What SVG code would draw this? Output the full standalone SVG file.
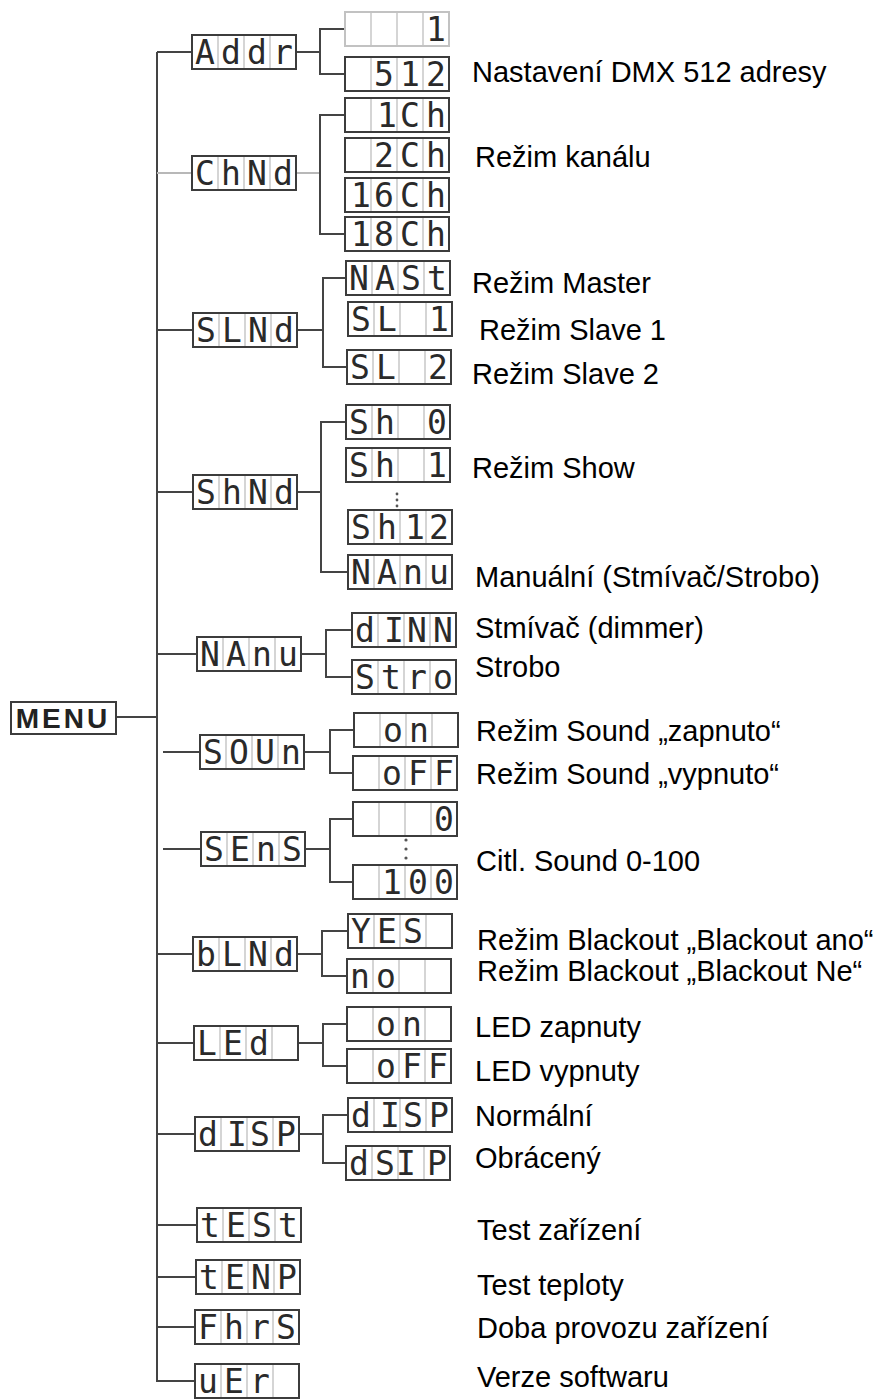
<svg xmlns="http://www.w3.org/2000/svg" xmlns:xlink="http://www.w3.org/1999/xlink" width="878" height="1400" viewBox="0 0 878 1400">
<style>
.bx{fill:#fff;stroke:#3c3c3c;stroke-width:2}
.bxl{fill:#fff;stroke:#c2c2c2;stroke-width:2}
.dv{stroke:#c8c8c8;stroke-width:1.5}
.sg{font-family:"DejaVu Sans Mono","Liberation Mono",monospace;font-size:33px;fill:#2a2a2a;text-anchor:middle}
.lb{font-family:"Liberation Sans",Arial,sans-serif;font-size:29px;fill:#000}
.cn{stroke:#444;stroke-width:2;fill:none}
.cnl{stroke:#b8b8b8;stroke-width:2;fill:none}
.dot{fill:#555}
</style>
<defs>
<g id="frame"><rect class="bx" x="0" y="0" width="104" height="34"/><path class="dv" d="M26,1V33M52,1V33M78,1V33"/></g>
<g id="framel"><rect class="bxl" x="0" y="0" width="104" height="34"/><path class="dv" d="M26,1V33M52,1V33M78,1V33"/></g>
</defs>
<g id="connectors">
<path class="cn" d="M157,52V1381H195"/>
<path class="cn" d="M157,52H192M157,330H193M157,492H193M157,654H197M116,717H157M163,752H200M163,849H201M157,954H193M157,1043H194M157,1134H195M157,1225H197M157,1277H196M157,1327H195"/>
<path class="cnl" d="M157,173H192M296,173H320"/>
<path class="cn" d="M296,52H320M345,29H320V74H345"/>
<path class="cn" d="M345,115H320V234H345"/>
<path class="cn" d="M297,330H323M346,278H323V367H347"/>
<path class="cn" d="M297,492H321M346,422H321V572H348"/>
<path class="cn" d="M301,654H326M352,630H326V677H352"/>
<path class="cn" d="M304,752H330M354,730H330V773H353"/>
<path class="cn" d="M305,849H330M353,819H330V882H353"/>
<path class="cn" d="M297,954H322M348,931H322V976H347"/>
<path class="cn" d="M298,1043H323M347,1024H323V1066H347"/>
<path class="cn" d="M299,1134H323M348,1115H323V1163H346"/>
<circle class="dot" cx="397" cy="494" r="1.4"/><circle class="dot" cx="397" cy="500" r="1.4"/><circle class="dot" cx="397" cy="506" r="1.4"/>
<circle class="dot" cx="406" cy="840" r="1.6"/><circle class="dot" cx="406" cy="849" r="1.6"/><circle class="dot" cx="406" cy="858" r="1.6"/>
</g>
<g id="menu"><rect x="11" y="702" width="105" height="32" fill="#fff" stroke="#3c3c3c" stroke-width="2"/><text x="63" y="728" font-family="Liberation Sans,Arial,sans-serif" font-size="28" font-weight="bold" letter-spacing="3" text-anchor="middle" fill="#222">MENU</text></g>
<g id="n-addr" transform="translate(192,35)"><use xlink:href="#frame"/><text class="sg" y="29"><tspan x="13">A</tspan><tspan x="39">d</tspan><tspan x="65">d</tspan><tspan x="91">r</tspan></text></g>
<g id="n-addr-1" transform="translate(345,12)"><use xlink:href="#framel"/><text class="sg" y="29"><tspan x="91">1</tspan></text></g>
<g id="n-addr-512" transform="translate(345,57)"><use xlink:href="#frame"/><text class="sg" y="29"><tspan x="39">5</tspan><tspan x="65">1</tspan><tspan x="91">2</tspan></text></g>
<g id="n-chnd" transform="translate(192,156)"><use xlink:href="#frame"/><text class="sg" y="29"><tspan x="13">C</tspan><tspan x="39">h</tspan><tspan x="65">N</tspan><tspan x="91">d</tspan></text></g>
<g id="n-1ch" transform="translate(345,98)"><use xlink:href="#frame"/><text class="sg" y="29"><tspan x="42">1</tspan><tspan x="65">C</tspan><tspan x="91">h</tspan></text></g>
<g id="n-2ch" transform="translate(345,138)"><use xlink:href="#frame"/><text class="sg" y="29"><tspan x="39">2</tspan><tspan x="65">C</tspan><tspan x="91">h</tspan></text></g>
<g id="n-16ch" transform="translate(345,178)"><use xlink:href="#frame"/><text class="sg" y="29"><tspan x="16">1</tspan><tspan x="39">6</tspan><tspan x="65">C</tspan><tspan x="91">h</tspan></text></g>
<g id="n-18ch" transform="translate(345,217)"><use xlink:href="#frame"/><text class="sg" y="29"><tspan x="16">1</tspan><tspan x="39">8</tspan><tspan x="65">C</tspan><tspan x="91">h</tspan></text></g>
<g id="n-slnd" transform="translate(193,313)"><use xlink:href="#frame"/><text class="sg" y="29"><tspan x="13">S</tspan><tspan x="39">L</tspan><tspan x="65">N</tspan><tspan x="91">d</tspan></text></g>
<g id="n-mast" transform="translate(346,261)"><use xlink:href="#frame"/><text class="sg" y="29"><tspan x="13">N</tspan><tspan x="39">A</tspan><tspan x="65">S</tspan><tspan x="91">t</tspan></text></g>
<g id="n-sl1" transform="translate(348,302)"><use xlink:href="#frame"/><text class="sg" y="29"><tspan x="13">S</tspan><tspan x="39">L</tspan><tspan x="91">1</tspan></text></g>
<g id="n-sl2" transform="translate(347,350)"><use xlink:href="#frame"/><text class="sg" y="29"><tspan x="13">S</tspan><tspan x="39">L</tspan><tspan x="91">2</tspan></text></g>
<g id="n-shnd" transform="translate(193,475)"><use xlink:href="#frame"/><text class="sg" y="29"><tspan x="13">S</tspan><tspan x="39">h</tspan><tspan x="65">N</tspan><tspan x="91">d</tspan></text></g>
<g id="n-sh0" transform="translate(346,405)"><use xlink:href="#frame"/><text class="sg" y="29"><tspan x="13">S</tspan><tspan x="39">h</tspan><tspan x="91">0</tspan></text></g>
<g id="n-sh1" transform="translate(346,448)"><use xlink:href="#frame"/><text class="sg" y="29"><tspan x="13">S</tspan><tspan x="39">h</tspan><tspan x="91">1</tspan></text></g>
<g id="n-sh12" transform="translate(348,510)"><use xlink:href="#frame"/><text class="sg" y="29"><tspan x="13">S</tspan><tspan x="39">h</tspan><tspan x="67">1</tspan><tspan x="91">2</tspan></text></g>
<g id="n-manu-c" transform="translate(348,555)"><use xlink:href="#frame"/><text class="sg" y="29"><tspan x="13">N</tspan><tspan x="39">A</tspan><tspan x="65">n</tspan><tspan x="91">u</tspan></text></g>
<g id="n-manu" transform="translate(197,637)"><use xlink:href="#frame"/><text class="sg" y="29"><tspan x="13">N</tspan><tspan x="39">A</tspan><tspan x="65">n</tspan><tspan x="91">u</tspan></text></g>
<g id="n-dimm" transform="translate(352,613)"><use xlink:href="#frame"/><text class="sg" y="29"><tspan x="13">d</tspan><tspan x="42">I</tspan><tspan x="65">N</tspan><tspan x="91">N</tspan></text></g>
<g id="n-stro" transform="translate(352,660)"><use xlink:href="#frame"/><text class="sg" y="29"><tspan x="13">S</tspan><tspan x="39">t</tspan><tspan x="65">r</tspan><tspan x="91">o</tspan></text></g>
<g id="n-soun" transform="translate(200,735)"><use xlink:href="#frame"/><text class="sg" y="29"><tspan x="13">S</tspan><tspan x="39">O</tspan><tspan x="65">U</tspan><tspan x="91">n</tspan></text></g>
<g id="n-on1" transform="translate(354,713)"><use xlink:href="#frame"/><text class="sg" y="29"><tspan x="39">o</tspan><tspan x="65">n</tspan></text></g>
<g id="n-off1" transform="translate(353,756)"><use xlink:href="#frame"/><text class="sg" y="29"><tspan x="39">o</tspan><tspan x="65">F</tspan><tspan x="91">F</tspan></text></g>
<g id="n-sens" transform="translate(201,832)"><use xlink:href="#frame"/><text class="sg" y="29"><tspan x="13">S</tspan><tspan x="39">E</tspan><tspan x="65">n</tspan><tspan x="91">S</tspan></text></g>
<g id="n-s0" transform="translate(353,802)"><use xlink:href="#frame"/><text class="sg" y="29"><tspan x="91">0</tspan></text></g>
<g id="n-s100" transform="translate(353,865)"><use xlink:href="#frame"/><text class="sg" y="29"><tspan x="39">1</tspan><tspan x="65">0</tspan><tspan x="91">0</tspan></text></g>
<g id="n-blnd" transform="translate(193,937)"><use xlink:href="#frame"/><text class="sg" y="29"><tspan x="13">b</tspan><tspan x="39">L</tspan><tspan x="65">N</tspan><tspan x="91">d</tspan></text></g>
<g id="n-yes" transform="translate(348,914)"><use xlink:href="#frame"/><text class="sg" y="29"><tspan x="13">Y</tspan><tspan x="39">E</tspan><tspan x="65">S</tspan></text></g>
<g id="n-no" transform="translate(347,959)"><use xlink:href="#frame"/><text class="sg" y="29"><tspan x="13">n</tspan><tspan x="39">o</tspan></text></g>
<g id="n-led" transform="translate(194,1026)"><use xlink:href="#frame"/><text class="sg" y="29"><tspan x="13">L</tspan><tspan x="39">E</tspan><tspan x="65">d</tspan></text></g>
<g id="n-on2" transform="translate(347,1007)"><use xlink:href="#frame"/><text class="sg" y="29"><tspan x="39">o</tspan><tspan x="65">n</tspan></text></g>
<g id="n-off2" transform="translate(347,1049)"><use xlink:href="#frame"/><text class="sg" y="29"><tspan x="39">o</tspan><tspan x="65">F</tspan><tspan x="91">F</tspan></text></g>
<g id="n-disp" transform="translate(195,1117)"><use xlink:href="#frame"/><text class="sg" y="29"><tspan x="13">d</tspan><tspan x="42">I</tspan><tspan x="65">S</tspan><tspan x="91">P</tspan></text></g>
<g id="n-disp-c" transform="translate(348,1098)"><use xlink:href="#frame"/><text class="sg" y="29"><tspan x="13">d</tspan><tspan x="42">I</tspan><tspan x="65">S</tspan><tspan x="91">P</tspan></text></g>
<g id="n-dsip" transform="translate(346,1146)"><use xlink:href="#frame"/><text class="sg" y="29"><tspan x="13">d</tspan><tspan x="39">S</tspan><tspan x="60">I</tspan><tspan x="91">P</tspan></text></g>
<g id="n-test" transform="translate(197,1208)"><use xlink:href="#frame"/><text class="sg" y="29"><tspan x="13">t</tspan><tspan x="39">E</tspan><tspan x="65">S</tspan><tspan x="91">t</tspan></text></g>
<g id="n-temp" transform="translate(196,1260)"><use xlink:href="#frame"/><text class="sg" y="29"><tspan x="13">t</tspan><tspan x="39">E</tspan><tspan x="65">N</tspan><tspan x="91">P</tspan></text></g>
<g id="n-fhrs" transform="translate(195,1310)"><use xlink:href="#frame"/><text class="sg" y="29"><tspan x="13">F</tspan><tspan x="39">h</tspan><tspan x="65">r</tspan><tspan x="91">S</tspan></text></g>
<g id="n-ver" transform="translate(195,1364)"><use xlink:href="#frame"/><text class="sg" y="29"><tspan x="13">u</tspan><tspan x="39">E</tspan><tspan x="65">r</tspan></text></g>
<g id="labels">
<text class="lb" x="472" y="82">Nastavení DMX 512 adresy</text>
<text class="lb" x="475" y="167">Režim kanálu</text>
<text class="lb" x="472" y="293">Režim Master</text>
<text class="lb" x="479" y="340">Režim Slave 1</text>
<text class="lb" x="472" y="384">Režim Slave 2</text>
<text class="lb" x="472" y="478">Režim Show</text>
<text class="lb" x="475" y="587">Manuální (Stmívač/Strobo)</text>
<text class="lb" x="475" y="638">Stmívač (dimmer)</text>
<text class="lb" x="475" y="677">Strobo</text>
<text class="lb" x="476" y="741">Režim Sound „zapnuto“</text>
<text class="lb" x="476" y="784">Režim Sound „vypnuto“</text>
<text class="lb" x="476" y="871">Citl. Sound 0-100</text>
<text class="lb" x="477" y="950">Režim Blackout „Blackout ano“</text>
<text class="lb" x="477" y="981">Režim Blackout „Blackout Ne“</text>
<text class="lb" x="475" y="1037">LED zapnuty</text>
<text class="lb" x="475" y="1081">LED vypnuty</text>
<text class="lb" x="475" y="1126">Normální</text>
<text class="lb" x="475" y="1168">Obrácený</text>
<text class="lb" x="477" y="1240">Test zařízení</text>
<text class="lb" x="477" y="1295">Test teploty</text>
<text class="lb" x="477" y="1338">Doba provozu zařízení</text>
<text class="lb" x="477" y="1387">Verze softwaru</text>
</g>
</svg>
